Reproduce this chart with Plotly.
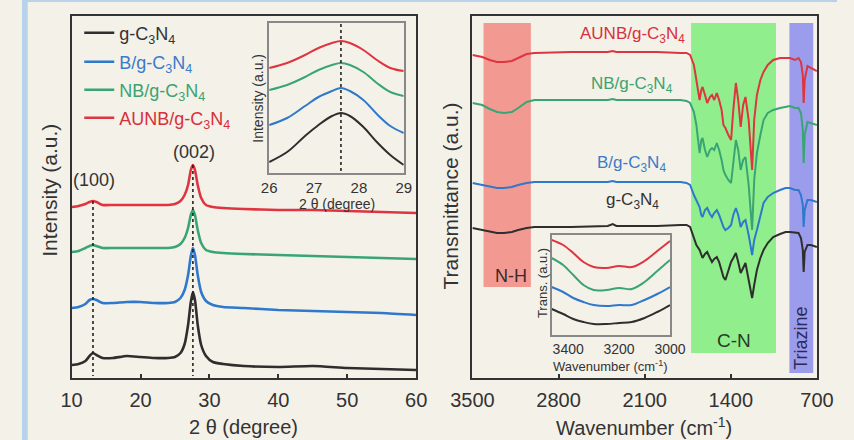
import plotly.graph_objects as go

W, H = 854, 440
BG = '#f4f1e9'
C_BLACK = '#2e2e2e'
C_BLUE = '#2f78cc'
C_GREEN = '#3aa574'
C_RED = '#de3540'

# ---------------- XRD (left panel) ----------------
xrd_2theta = [10, 11, 12, 12.6, 13.1, 13.6, 14.5, 16, 18, 20, 22, 24, 25, 25.8, 26.4, 26.9,
              27.3, 27.6, 27.9, 28.3, 28.8, 29.5, 30.5, 32, 35, 40, 45, 50, 55, 60]
# offset-stacked intensities (a.u., axis drawn downward-increasing)
xrd_gcn = [365, 364, 361, 356, 353, 355, 358, 358, 356, 357, 358, 358, 357, 353, 344, 325,
           302, 292, 300, 325, 345, 356, 362, 364, 366, 367, 366, 368, 369, 370]
xrd_b = [308, 307, 304, 300, 299, 300, 303, 303, 302, 302, 303, 303, 302, 298, 290, 275,
         256, 248, 255, 275, 292, 301, 305, 307, 308, 310, 311, 312, 313, 315]
xrd_nb = [252, 251, 248, 246, 245, 246, 248, 248, 248, 248, 248, 248, 247, 244, 238, 228,
          215, 210, 215, 230, 243, 250, 252, 253, 254, 255, 256, 257, 258, 259]
xrd_aunb = [207, 206, 204, 202, 201, 202, 205, 205, 205, 205, 205, 205, 204, 201, 195, 185,
            170, 165, 170, 185, 198, 205, 207, 208, 209, 210, 210, 211, 212, 213]
peak_100, peak_002 = 13.1, 27.6
xrd_ticks = [10, 20, 30, 40, 50, 60]

# XRD inset
ins_2theta = [26, 26.4, 26.8, 27.1, 27.4, 27.6, 27.8, 28.1, 28.4, 28.7, 29]
ins_gcn = [162, 152, 136, 125, 116, 113, 116, 127, 142, 155, 165]
ins_b = [125, 118, 106, 97, 91, 88, 91, 100, 114, 126, 133]
ins_nb = [90, 85, 77, 70, 65, 63, 65, 72, 83, 92, 96]
ins_aunb = [68, 63, 55, 48, 43, 41, 43, 50, 60, 68, 71]
ins_ticks = [26, 27, 28, 29]

# ---------------- FTIR (right panel) ----------------
wn = [3500, 3420, 3360, 3300, 3244, 3180, 3128, 3060, 2996, 2700, 2400, 2360, 2330, 2000, 1809,
      1760, 1731, 1700, 1680, 1654, 1640, 1630, 1610, 1592, 1570, 1553, 1535, 1514, 1495, 1475,
      1460, 1444, 1420, 1398, 1380, 1359, 1340, 1320, 1300, 1281, 1255, 1227, 1210, 1188, 1160,
      1134, 1100, 1056, 1000, 955, 920, 878, 850, 830, 815, 808, 800, 777, 750, 700]
ft_aunb = [55, 57, 60, 62, 62, 61, 58, 54, 53, 52, 52, 51, 52, 52, 53,
           53, 55, 65, 80, 100, 90, 87, 95, 103, 97, 95, 100, 93, 100, 110,
           125, 128, 135, 140, 110, 83, 100, 127, 105, 97, 120, 170, 120, 95, 80,
           72, 65, 60, 58, 58, 58, 60, 58, 62, 75, 103, 80, 66, 68, 71]
ft_nb = [103, 105, 109, 112, 113, 112, 108, 102, 100, 100, 100, 99, 100, 100, 100,
         101, 103, 112, 125, 153, 140, 138, 150, 157, 150, 148, 150, 143, 150, 160,
         170, 175, 180, 183, 160, 140, 150, 170, 160, 157, 185, 230, 180, 153, 135,
         120, 113, 110, 108, 107, 106, 108, 108, 113, 130, 163, 135, 122, 123, 125]
ft_b = [183, 185, 187, 188, 188, 187, 185, 183, 182, 182, 182, 181, 182, 182, 182,
        183, 185, 195, 200, 207, 215, 217, 210, 208, 214, 217, 213, 210, 215, 223,
        227, 230, 228, 225, 215, 208, 215, 227, 222, 220, 235, 255, 240, 230, 215,
        203, 197, 193, 190, 188, 188, 190, 190, 195, 205, 227, 210, 200, 200, 202]
ft_gcn = [228, 230, 232, 233, 233, 232, 230, 228, 227, 227, 226, 224, 226, 226, 225,
          225, 227, 238, 245, 250, 256, 258, 254, 252, 258, 262, 259, 257, 262, 270,
          277, 280, 270, 262, 258, 253, 262, 273, 268, 263, 280, 298, 285, 270, 258,
          250, 243, 237, 234, 232, 232, 233, 233, 238, 250, 272, 252, 245, 245, 247]
ftir_ticks = [3500, 2800, 2100, 1400, 700]

# FTIR inset (N-H region)
ins_wn = [3465, 3420, 3380, 3340, 3300, 3250, 3200, 3150, 3100, 3050, 3000]
ins_ft_aunb = [240, 245, 253, 262, 267, 268, 266, 267, 261, 251, 241]
ins_ft_nb = [258, 265, 275, 285, 290, 290, 288, 289, 282, 271, 260]
ins_ft_b = [287, 292, 298, 302, 305, 306, 305, 305, 300, 294, 287]
ins_ft_gcn = [309, 314, 319, 322, 324, 324, 323, 322, 318, 312, 305]
ins_ft_ticks = [3400, 3200, 3000]

# band regions (cm-1)
band_nh = (3410, 3025)
band_cn = (1723, 1033)
band_tri = (924, 730)

names = ['g-C<sub>3</sub>N<sub>4</sub>', 'B/g-C<sub>3</sub>N<sub>4</sub>',
         'NB/g-C<sub>3</sub>N<sub>4</sub>', 'AUNB/g-C<sub>3</sub>N<sub>4</sub>']
cols = [C_BLACK, C_BLUE, C_GREEN, C_RED]
txtcols = ['#333333', '#3a7cc8', '#3ca36f', '#d8303a']
legend_ids = ['legend', 'legend2', 'legend3', 'legend4']
legend_rows = [33, 62, 90, 118]


def px(x):
    return x / W


def py(y):
    return 1 - y / H


fig = go.Figure()

# main XRD curves
for nm, c, tc, ys, lg in zip(names, cols, txtcols, [xrd_gcn, xrd_b, xrd_nb, xrd_aunb], legend_ids):
    fig.add_trace(go.Scatter(x=xrd_2theta, y=ys, mode='lines', xaxis='x', yaxis='y',
                             line=dict(color=c, width=2.6, shape='spline', smoothing=0.6),
                             name=f'<span style="color:{tc}">{nm}</span>', showlegend=True,
                             legend=lg))
# dotted guide lines
for pk, top in [(peak_100, xrd_aunb[xrd_2theta.index(peak_100)]),
                (peak_002, xrd_aunb[xrd_2theta.index(peak_002)])]:
    fig.add_trace(go.Scatter(x=[pk, pk], y=[top, 376], mode='lines', xaxis='x', yaxis='y',
                             line=dict(color='#222222', width=1.6, dash='dot'), showlegend=False))

# XRD inset
for c, ys in zip(cols, [ins_gcn, ins_b, ins_nb, ins_aunb]):
    fig.add_trace(go.Scatter(x=ins_2theta, y=ys, mode='lines', xaxis='x3', yaxis='y3',
                             line=dict(color=c, width=2, shape='spline'), showlegend=False))
fig.add_trace(go.Scatter(x=[peak_002, peak_002], y=[24, 172], mode='lines', xaxis='x3', yaxis='y3',
                         line=dict(color='#222222', width=1.6, dash='dot'), showlegend=False))

# FTIR curves
for c, ys in zip(cols, [ft_gcn, ft_b, ft_nb, ft_aunb]):
    fig.add_trace(go.Scatter(x=wn, y=ys, mode='lines', xaxis='x2', yaxis='y2',
                             line=dict(color=c, width=2), showlegend=False))
# FTIR inset
for c, ys in zip(cols, [ins_ft_gcn, ins_ft_b, ins_ft_nb, ins_ft_aunb]):
    fig.add_trace(go.Scatter(x=ins_wn, y=ys, mode='lines', xaxis='x4', yaxis='y4',
                             line=dict(color=c, width=2, shape='spline'), showlegend=False))

shapes = [
    # light-blue frame of the picture
    dict(type='rect', xref='paper', yref='paper', x0=0, x1=px(6), y0=0, y1=1,
         fillcolor='#b8d2ec', line=dict(width=0), layer='below'),
    dict(type='rect', xref='paper', yref='paper', x0=0, x1=1, y0=py(2), y1=1,
         fillcolor='#b8d2ec', line=dict(width=0), layer='below'),
    # bands
    dict(type='rect', xref='x2', yref='y2', x0=band_nh[0], x1=band_nh[1], y0=23, y1=287,
         fillcolor='#f29a92', line=dict(width=0), layer='below'),
    dict(type='rect', xref='x2', yref='y2', x0=band_cn[0], x1=band_cn[1], y0=23, y1=353,
         fillcolor='#90ef8c', line=dict(width=0), layer='below'),
    dict(type='rect', xref='x2', yref='y2', x0=band_tri[0], x1=band_tri[1], y0=23, y1=373,
         fillcolor='#9c9cec', line=dict(width=0), layer='below'),
]

F = 'Liberation Sans, Arial, sans-serif'
ann = []


def A(text, x, y, size, color='#333333', angle=0):
    ann.append(dict(text=text, x=px(x), y=py(y), xref='paper', yref='paper', showarrow=False,
                    font=dict(family=F, size=size, color=color), textangle=angle,
                    xanchor='center', yanchor='middle'))


A('(100)', 75, 180, 18)
A('(002)', 180, 152, 18)
A('2 θ (degree)', 232, 427, 20)
A('Intensity (a.u.)', 28, 190, 21, angle=-90)
A('2 θ (degree)', 330, 204, 14)
A('Intensity (a.u.)', 247, 98, 14, angle=-90)
A('Transmittance (a.u.)', 449, 196, 21, angle=-90)
A('Wavenumber (cm<sup>-1</sup>)', 652, 426, 20)
A('AUNB/g-C<sub>3</sub>N<sub>4</sub>', 640, 35, 17, '#d8303a')
A('NB/g-C<sub>3</sub>N<sub>4</sub>', 639, 85, 17, '#3ca36f')
A('B/g-C<sub>3</sub>N<sub>4</sub>', 639, 164, 17, '#3a7cc8')
A('g-C<sub>3</sub>N<sub>4</sub>', 640, 201, 17, '#333333')
A('N-H', 512, 276, 18, '#3a2a2a')
A('C-N', 746, 340, 19, '#2a3a2a')
A('Triazine', 816, 338, 18, '#2a2a5a', angle=-90)
A('Trans. (a.u.)', 545, 283, 13, angle=-90)
A('Wavenumber (cm<sup>-1</sup>)', 617, 366, 13)

axis_common = dict(showgrid=False, zeroline=False, showline=True, mirror=True,
                   linecolor='#333333', linewidth=2)

legends = {}
for lg, row in zip(legend_ids, legend_rows):
    legends[lg] = dict(x=px(60), y=py(row), xanchor='left', yanchor='middle',
                       bgcolor='rgba(0,0,0,0)', font=dict(family=F, size=18),
                       itemwidth=30, borderwidth=0)

fig.update_layout(
    width=W, height=H, margin=dict(l=0, r=0, t=0, b=0),
    paper_bgcolor=BG, plot_bgcolor=BG, shapes=shapes, annotations=ann,
    font=dict(family=F, color='#333333'),
    showlegend=True,
    xaxis=dict(domain=[px(52), px(413)], range=[10, 60], tickvals=xrd_ticks, ticks='inside',
               ticklen=4, tickwidth=1.5, tickcolor='#333333', anchor='y',
               tickfont=dict(family=F, size=20, color='#333333'), ticklabelstandoff=3,
               **axis_common),
    yaxis=dict(domain=[py(378), py(16)], range=[378, 16], showticklabels=False, ticks='',
               anchor='x', **axis_common),
    xaxis2=dict(domain=[px(472), px(833)], range=[3500, 700], tickvals=ftir_ticks, ticks='inside',
                ticklen=4, tickwidth=1.5, tickcolor='#333333', anchor='y2',
                tickfont=dict(family=F, size=20, color='#333333'), ticklabelstandoff=3,
                **axis_common),
    yaxis2=dict(domain=[py(378), py(16)], range=[378, 16], showticklabels=False, ticks='',
                anchor='x2', **axis_common),
    xaxis3=dict(domain=[px(259), px(400)], range=[26, 29], tickvals=ins_ticks, ticks='',
                anchor='y3', showgrid=False, zeroline=False, showline=True, mirror=True,
                linecolor='#888888', linewidth=1.5, ticklabelstandoff=0,
                tickfont=dict(family=F, size=15, color='#333333')),
    yaxis3=dict(domain=[py(173), py(23)], range=[173, 23], showticklabels=False, ticks='',
                anchor='x3', showgrid=False, zeroline=False, showline=True, mirror=True,
                linecolor='#888888', linewidth=1.5),
    xaxis4=dict(domain=[px(555), px(679)], range=[3465, 3000], tickvals=ins_ft_ticks, ticks='',
                anchor='y4', showgrid=False, zeroline=False, showline=True, mirror=True,
                linecolor='#888888', linewidth=1.5, ticklabelstandoff=0,
                tickfont=dict(family=F, size=14, color='#333333')),
    yaxis4=dict(domain=[py(335), py(235)], range=[335, 235], showticklabels=False, ticks='',
                anchor='x4', showgrid=False, zeroline=False, showline=True, mirror=True,
                linecolor='#888888', linewidth=1.5),
    **legends,
)

fig.write_html('out.html', config={'displayModeBar': False},
               post_script="document.body.style.margin='0';document.body.style.overflow='hidden';")
